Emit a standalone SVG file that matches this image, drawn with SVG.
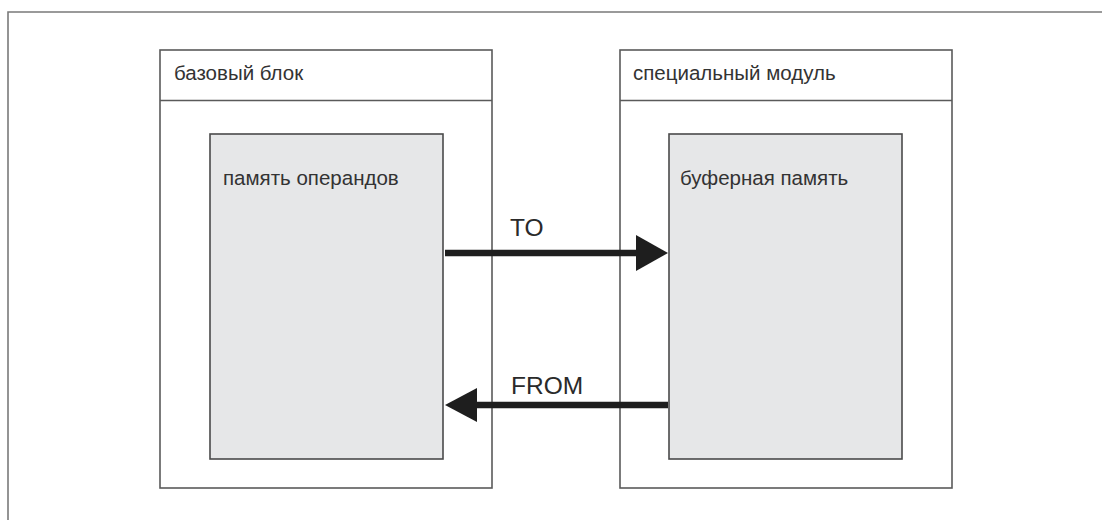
<svg xmlns="http://www.w3.org/2000/svg" width="1102" height="520" viewBox="0 0 1102 520">
<style>
.frame{fill:none;stroke:#7a7a7a;stroke-width:1.6}
.block{fill:#fff;stroke:#5a5a5a;stroke-width:1.6}
.mem{fill:#e6e7e8;stroke:#4a4a4a;stroke-width:1.6}
.hdr{stroke:#5a5a5a;stroke-width:1.6}
.t{font-family:"Liberation Sans",Arial,sans-serif;font-size:20.5px;fill:#333}
.lbl{font-family:"Liberation Sans",Arial,sans-serif;font-size:24.5px;fill:#2a2a2a}
.conn{stroke:#1e1e1e;stroke-width:6.5;fill:none}
.head{fill:#1e1e1e}
</style>
<path class="frame" d="M8,520 V12 H1102"/>
<g id="base-block">
<rect class="block" x="160" y="50" width="332" height="438"/>
<line class="hdr" x1="160" y1="100.5" x2="492" y2="100.5"/>
<text class="t" x="174" y="80">базовый блок</text>
</g>
<g id="operand-memory">
<rect class="mem" x="210" y="134" width="233" height="325"/>
<text class="t" x="223" y="185">память операндов</text>
</g>
<g id="special-module">
<rect class="block" x="620" y="50" width="332" height="438"/>
<line class="hdr" x1="620" y1="100.5" x2="952" y2="100.5"/>
<text class="t" x="633" y="80">специальный модуль</text>
</g>
<g id="buffer-memory">
<rect class="mem" x="669" y="134" width="233" height="325"/>
<text class="t" x="680" y="185">буферная память</text>
</g>
<g id="connectors">
<line class="conn" x1="445" y1="253" x2="640" y2="253"/>
<polygon class="head" points="636,235 668,253 636,271"/>
<text class="lbl" x="510" y="236">TO</text>
<line class="conn" x1="668" y1="405" x2="472" y2="405"/>
<polygon class="head" points="477,388 445,405 477,422"/>
<text class="lbl" x="511" y="394">FROM</text>
</g>
</svg>
